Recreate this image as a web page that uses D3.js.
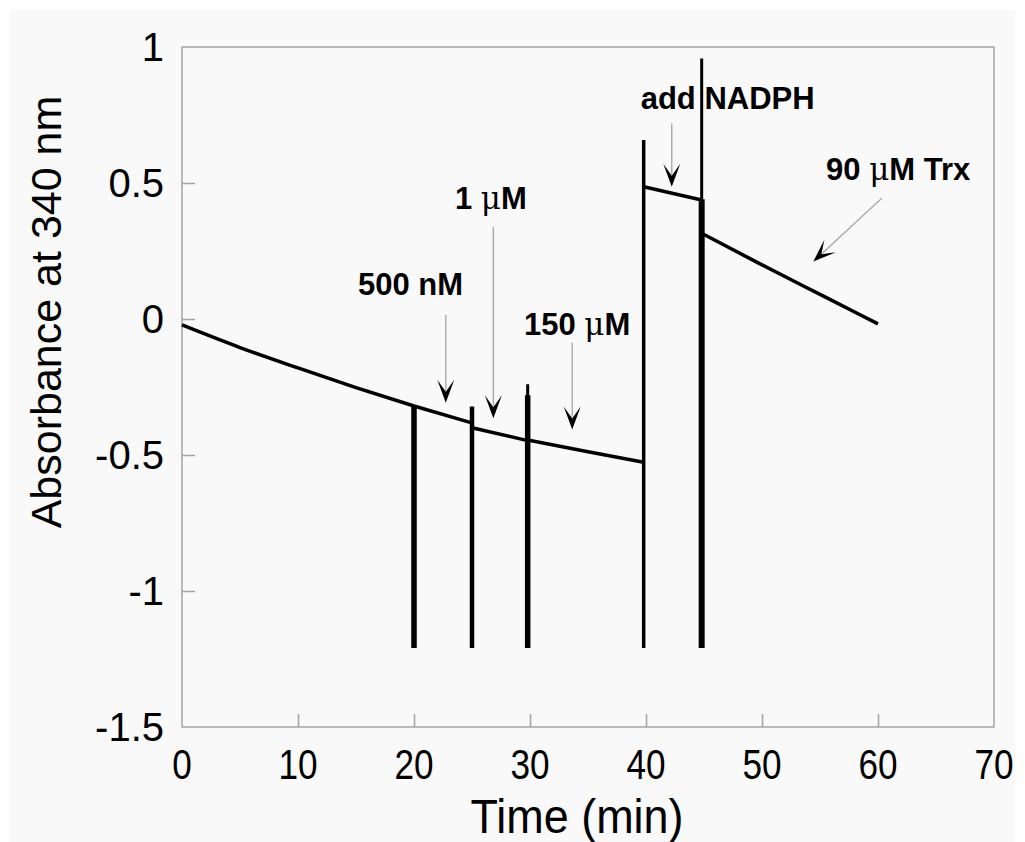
<!DOCTYPE html>
<html>
<head>
<meta charset="utf-8">
<script src="https://cdn.jsdelivr.net/npm/d3@7"></script>
<style>
  body { margin: 0; background: #ffffff; }
  svg { display: block; font-family: "Liberation Sans", Arial, sans-serif; }
</style>
</head>
<body>
<svg id="chart" width="1025" height="842"></svg>
<script>
// absorbance trace, split into the pieces between additions
const traceSegments = [
    [[0, -0.022], [5, -0.105], [10, -0.18], [15, -0.252], [20, -0.32]],
    [[20, -0.32], [24.9, -0.381]],
    [[25, -0.40], [29.8, -0.447]],
    [[29.8, -0.445], [35, -0.488], [39.8, -0.527]],
    [[39.8, 0.486], [44.8, 0.4375]],
    [[44.8, 0.315], [50, 0.199], [55.3, 0.084], [60, -0.018]]
];

// spikes where the cuvette was opened
const spikeTimes   = [20, 25, 29.8, 29.8, 39.8, 44.8, 44.8];
const spikeTops    = [-0.32, -0.322, -0.24, -0.28, 0.658, 0.958, 0.44];
const spikeBottoms = [-1.21, -1.21, -1.21, -1.21, -1.21, -1.21, -1.21];

// annotations: label text, label anchor (time, abs), arrow start, arrow tip
const noteTexts  = [["500 nM"], ["1 ", "\u03bc", "M"], ["150 ", "\u03bc", "M"], ["add NADPH"], ["90 ", "\u03bc", "M Trx"]];
const noteAt     = [[15.17, 0.088], [23.53, 0.403], [29.48, -0.06], [39.54, 0.771], [55.52, 0.511]];
const arrowFrom  = [[22.74, 0.015], [26.84, 0.339], [33.64, -0.087], [42.22, 0.719], [60.32, 0.444]];
const arrowTo    = [[22.74, -0.308], [26.84, -0.365], [33.64, -0.406], [42.22, 0.486], [54.42, 0.211]];

const xTicks = [0, 10, 20, 30, 40, 50, 60, 70];
const yTicks = [-1.5, -1, -0.5, 0, 0.5, 1];

const spikeWidths = [5.5, 4.5, 3, 5.5, 3.5, 3, 6];

const svg = d3.select('#chart');

const x = d3.scaleLinear().domain([0, 70]).range([182, 994]);
const y = d3.scaleLinear().domain([-1.5, 1]).range([727, 47]);

// page and frame
svg.append('rect')
    .attr('x', 10).attr('y', 10)
    .attr('width', 1005).attr('height', 832)
    .attr('fill', '#f9f9f9');

svg.append('rect')
    .attr('x', x(0)).attr('y', y(1))
    .attr('width', x(70) - x(0)).attr('height', y(-1.5) - y(1))
    .attr('fill', 'none')
    .attr('stroke', '#a3a3a3')
    .attr('stroke-width', 1.5);

// axes: inward ticks, labels drawn separately
const xAxis = svg.append('g')
    .attr('transform', 'translate(0,' + y(-1.5) + ')')
    .call(d3.axisTop(x).tickValues(xTicks.slice(1, -1)).tickSize(13).tickFormat(''));
const yAxis = svg.append('g')
    .attr('transform', 'translate(' + x(0) + ',0)')
    .call(d3.axisRight(y).tickValues(yTicks.slice(1, -1)).tickSize(13).tickFormat(''));
[xAxis, yAxis].forEach(function (g) {
    g.select('.domain').remove();
    g.selectAll('line').attr('stroke', '#a3a3a3').attr('stroke-width', 1.5);
});

// x labels are a bit narrower and taller than the y ones in the original
svg.append('g').selectAll('text')
    .data(xTicks)
    .join('text')
    .attr('transform', d => 'translate(' + x(d) + ',779) scale(0.88,1.05)')
    .attr('text-anchor', 'middle')
    .attr('font-size', 40)
    .attr('fill', '#000')
    .text(d => d);

svg.append('g').selectAll('text')
    .data(yTicks)
    .join('text')
    .attr('x', 164)
    .attr('y', d => y(d) + 14)
    .attr('text-anchor', 'end')
    .attr('font-size', 40)
    .attr('fill', '#000')
    .text(d => d);

svg.append('text')
    .attr('x', 577)
    .attr('y', 833)
    .attr('text-anchor', 'middle')
    .attr('font-size', 48)
    .attr('textLength', 213)
    .attr('lengthAdjust', 'spacingAndGlyphs')
    .text('Time (min)');

svg.append('text')
    .attr('transform', 'translate(61,312) rotate(-90)')
    .attr('text-anchor', 'middle')
    .attr('font-size', 43)
    .text('Absorbance at 340 nm');

// spikes
svg.append('g').selectAll('line')
    .data(spikeTimes)
    .join('line')
    .attr('x1', d => x(d)).attr('x2', d => x(d))
    .attr('y1', (d, i) => y(spikeTops[i]))
    .attr('y2', (d, i) => y(spikeBottoms[i]))
    .attr('stroke', '#000')
    .attr('stroke-width', (d, i) => spikeWidths[i]);

// trace
const line = d3.line().x(d => x(d[0])).y(d => y(d[1])).curve(d3.curveMonotoneX);
svg.append('g').selectAll('path')
    .data(traceSegments)
    .join('path')
    .attr('d', line)
    .attr('fill', 'none')
    .attr('stroke', '#000')
    .attr('stroke-width', 3.5)
    .attr('stroke-linejoin', 'round');

// arrows
arrowFrom.forEach(function (from, i) {
    let x0 = x(from[0]), y0 = y(from[1]);
    let x1 = x(arrowTo[i][0]), y1 = y(arrowTo[i][1]);
    let ang = Math.atan2(y1 - y0, x1 - x0);
    svg.append('line')
        .attr('x1', x0).attr('y1', y0)
        .attr('x2', x1 - 12 * Math.cos(ang)).attr('y2', y1 - 12 * Math.sin(ang))
        .attr('stroke', '#aaaaaa')
        .attr('stroke-width', 1.4);
    svg.append('path')
        .attr('d', 'M0,0L-23,-8.5L-11,0L-23,8.5Z')
        .attr('transform', 'translate(' + x1 + ',' + y1 + ') rotate(' + (ang * 180 / Math.PI) + ')')
        .attr('fill', '#000');
});

// annotation labels (mu set in a lighter face like the original)
noteTexts.forEach(function (parts, i) {
    let t = svg.append('text')
        .attr('x', x(noteAt[i][0]))
        .attr('y', y(noteAt[i][1]))
        .attr('font-size', 31)
        .attr('font-weight', 'bold')
        .attr('fill', '#000');
    parts.forEach(function (p) {
        let s = t.append('tspan').text(p);
        if (p === '\u03bc') {
            s.attr('font-weight', 'normal').attr('font-family', '"DejaVu Serif", serif');
        }
    });
});
</script>
</body>
</html>
